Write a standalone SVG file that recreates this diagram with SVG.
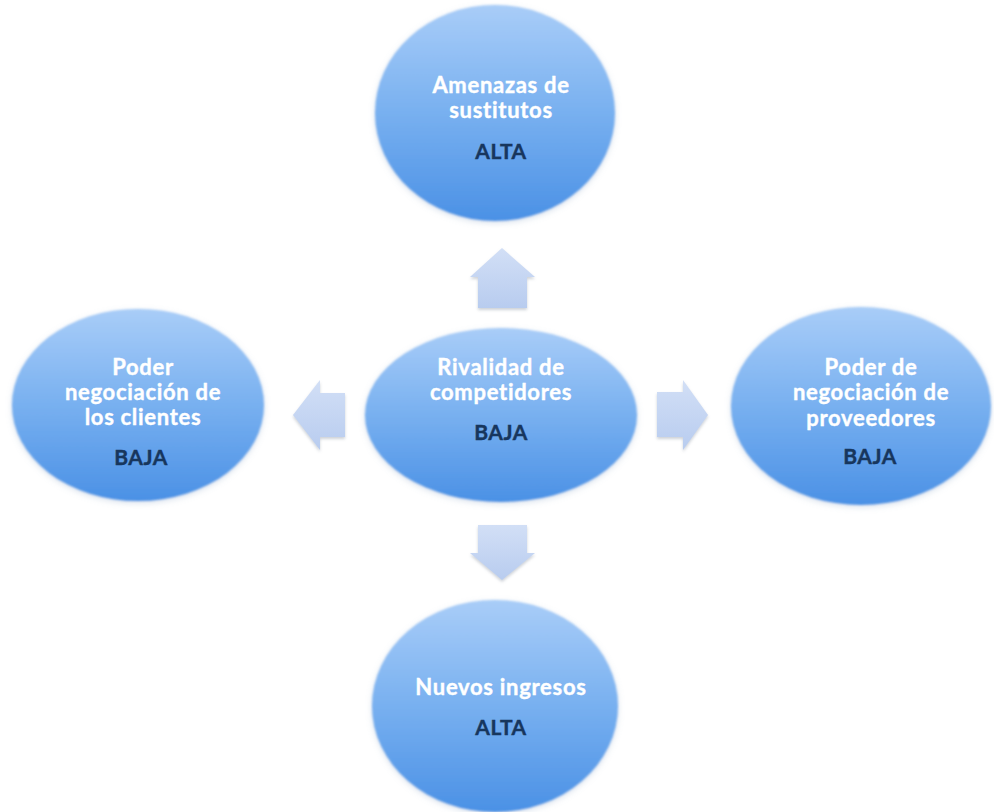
<svg xmlns="http://www.w3.org/2000/svg" width="994" height="812" viewBox="0 0 994 812">
  <defs>
    <linearGradient id="gEll" x1="0" y1="0" x2="0" y2="1">
      <stop offset="0" stop-color="#a9cdf8"/>
      <stop offset="0.5" stop-color="#78b0f0"/>
      <stop offset="1" stop-color="#4b91e5"/>
    </linearGradient>
    <linearGradient id="gArr" x1="0" y1="0" x2="0" y2="1">
      <stop offset="0" stop-color="#d2dff6"/>
      <stop offset="1" stop-color="#b8ccef"/>
    </linearGradient>
    <filter id="soft" x="-10%" y="-10%" width="120%" height="120%">
      <feGaussianBlur in="SourceAlpha" stdDeviation="3"/>
      <feOffset dy="2" result="b"/>
      <feFlood flood-color="#8fa8c8" flood-opacity="0.35"/>
      <feComposite in2="b" operator="in" result="sh"/>
      <feGaussianBlur in="SourceGraphic" stdDeviation="0.8" result="g"/>
      <feMerge><feMergeNode in="sh"/><feMergeNode in="g"/></feMerge>
    </filter>
    <filter id="arrSh" x="-20%" y="-20%" width="140%" height="140%">
      <feGaussianBlur in="SourceAlpha" stdDeviation="1.5"/>
      <feOffset dy="2" result="b"/>
      <feFlood flood-color="#909aa8" flood-opacity="0.45"/>
      <feComposite in2="b" operator="in" result="sh"/>
      <feMerge><feMergeNode in="sh"/><feMergeNode in="SourceGraphic"/></feMerge>
    </filter>
  </defs>
  <style>
    .ell { fill: url(#gEll); filter: url(#soft); }
    .arr { fill: url(#gArr); filter: url(#arrSh); }
    .t { font-family: Lato, "Liberation Sans", sans-serif; font-weight: bold; font-size: 22px; letter-spacing: 0.7px; fill: #ffffff; stroke: #ffffff; stroke-width: 0.4; text-anchor: middle; }
    .v { font-family: Lato, "Liberation Sans", sans-serif; font-weight: bold; font-size: 21px; letter-spacing: 0.5px; fill: #17365d; stroke: #17365d; stroke-width: 0.4; text-anchor: middle; }
  </style>
  <rect width="994" height="812" fill="#ffffff"/>

  <g id="connectors">
    <polygon class="arr" points="502,248 535,277 527,277 527,308 478,308 478,277 470,277"/>
    <polygon class="arr" points="478,525 527,525 527,553 535,553 502,580 470,553 478,553"/>
    <polygon class="arr" points="293,415 320,380 320,393 345,393 345,437 320,437 320,450"/>
    <polygon class="arr" points="657,392 683,392 683,380 708,415 683,450 683,437 657,437"/>
  </g>

  <g id="node-sustitutos">
    <ellipse class="ell" cx="495" cy="113" rx="120" ry="108"/>
    <text class="t" x="501" y="93">Amenazas de</text>
    <text class="t" x="501" y="118">sustitutos</text>
    <text class="v" x="501" y="159">ALTA</text>
  </g>

  <g id="node-rivalidad">
    <ellipse class="ell" cx="501" cy="415" rx="136" ry="87"/>
    <text class="t" x="501" y="375">Rivalidad de</text>
    <text class="t" x="501" y="400">competidores</text>
    <text class="v" x="501" y="440">BAJA</text>
  </g>

  <g id="node-clientes">
    <ellipse class="ell" cx="138" cy="405" rx="126" ry="96"/>
    <text class="t" x="143" y="375">Poder</text>
    <text class="t" x="143" y="400">negociación de</text>
    <text class="t" x="143" y="425">los clientes</text>
    <text class="v" x="141" y="465">BAJA</text>
  </g>

  <g id="node-proveedores">
    <ellipse class="ell" cx="861" cy="406" rx="130" ry="99"/>
    <text class="t" x="871" y="375">Poder de</text>
    <text class="t" x="871" y="400">negociación de</text>
    <text class="t" x="871" y="426">proveedores</text>
    <text class="v" x="870" y="464">BAJA</text>
  </g>

  <g id="node-nuevos">
    <ellipse class="ell" cx="495" cy="706" rx="123" ry="106"/>
    <text class="t" x="501" y="695">Nuevos ingresos</text>
    <text class="v" x="501" y="735">ALTA</text>
  </g>
</svg>
